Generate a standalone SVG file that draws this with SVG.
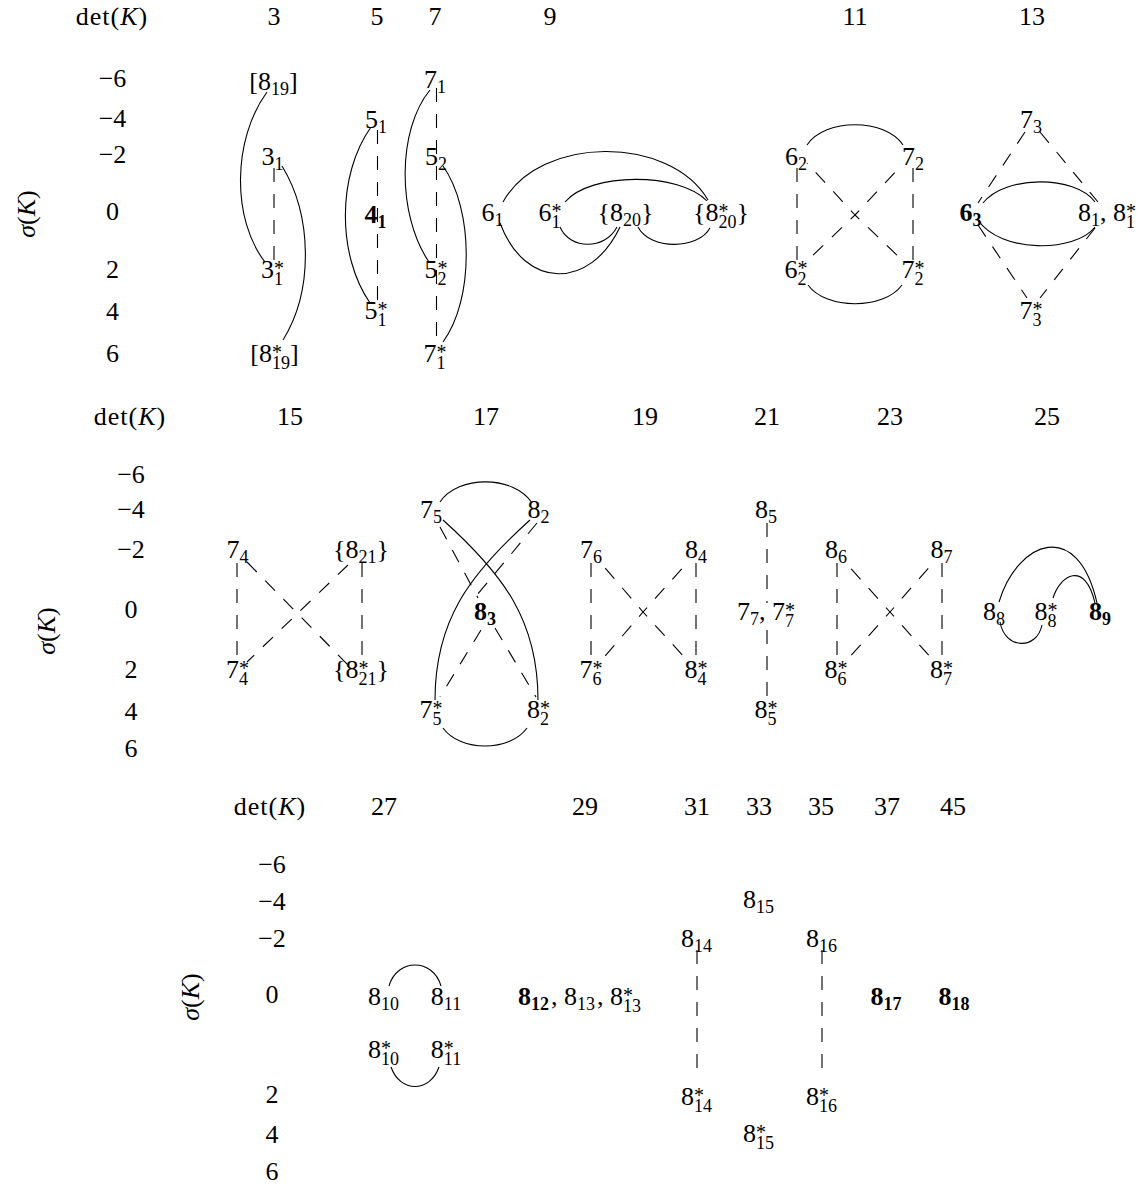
<svg xmlns="http://www.w3.org/2000/svg" width="1142" height="1186" viewBox="0 0 1142 1186">
<style>
.t{font-family:"Liberation Serif","Times New Roman",serif;font-size:26px;fill:#000}
.m{text-anchor:middle}
.s{font-size:18px}
.a{font-size:20px}
.b{font-weight:bold}
.i{font-style:italic}
.e{fill:none;stroke:#000;stroke-width:1.1}
.d{stroke-dasharray:14 12}
.x{stroke-dasharray:14 12;stroke-dashoffset:8}
</style>
<rect width="1142" height="1186" fill="#fff"/>
<g id="axes">
  <g id="axis-row1">
    <text class="t m" x="112" y="25" letter-spacing="1">det(<tspan class="i">K</tspan>)</text>
    <text class="t m" transform="translate(35,214) rotate(-90)"><tspan class="i">σ</tspan>(<tspan class="i">K</tspan>)</text>
    <text class="t m" x="112.5" y="87">−6</text>
    <text class="t m" x="112.5" y="127">−4</text>
    <text class="t m" x="112.5" y="163">−2</text>
    <text class="t m" x="112.5" y="220">0</text>
    <text class="t m" x="112.5" y="278">2</text>
    <text class="t m" x="112.5" y="320">4</text>
    <text class="t m" x="112.5" y="362">6</text>
    <text class="t m" x="274" y="25">3</text>
    <text class="t m" x="377" y="25">5</text>
    <text class="t m" x="435" y="25">7</text>
    <text class="t m" x="550" y="25">9</text>
    <text class="t m" x="855" y="25">11</text>
    <text class="t m" x="1032" y="25">13</text>
  </g>
  <g id="axis-row2">
    <text class="t m" x="130" y="425" letter-spacing="1">det(<tspan class="i">K</tspan>)</text>
    <text class="t m" transform="translate(55,631) rotate(-90)"><tspan class="i">σ</tspan>(<tspan class="i">K</tspan>)</text>
    <text class="t m" x="131" y="483">−6</text>
    <text class="t m" x="131" y="518">−4</text>
    <text class="t m" x="131" y="558">−2</text>
    <text class="t m" x="131" y="618">0</text>
    <text class="t m" x="131" y="678">2</text>
    <text class="t m" x="131" y="720">4</text>
    <text class="t m" x="131" y="757">6</text>
    <text class="t m" x="290" y="425">15</text>
    <text class="t m" x="486" y="425">17</text>
    <text class="t m" x="645" y="425">19</text>
    <text class="t m" x="767" y="425">21</text>
    <text class="t m" x="890" y="425">23</text>
    <text class="t m" x="1047" y="425">25</text>
  </g>
  <g id="axis-row3">
    <text class="t m" x="270" y="815" letter-spacing="1">det(<tspan class="i">K</tspan>)</text>
    <text class="t m" transform="translate(199,997) rotate(-90)"><tspan class="i">σ</tspan>(<tspan class="i">K</tspan>)</text>
    <text class="t m" x="272" y="873">−6</text>
    <text class="t m" x="272" y="910">−4</text>
    <text class="t m" x="272" y="947">−2</text>
    <text class="t m" x="272" y="1003">0</text>
    <text class="t m" x="272" y="1103">2</text>
    <text class="t m" x="272" y="1143">4</text>
    <text class="t m" x="272" y="1180">6</text>
    <text class="t m" x="384" y="815">27</text>
    <text class="t m" x="585" y="815">29</text>
    <text class="t m" x="697" y="815">31</text>
    <text class="t m" x="759" y="815">33</text>
    <text class="t m" x="821" y="815">35</text>
    <text class="t m" x="887" y="815">37</text>
    <text class="t m" x="953" y="815">45</text>
  </g>
</g>
<g id="connectors">
  <path class="e" d="M267,92 C232,140 232,220 265,262"/>
  <path class="e d" d="M274,168 L274,262"/>
  <path class="e" d="M282,166 C312,215 314,290 283,340"/>
  <path class="e d" d="M377.5,130 L377.5,300"/>
  <path class="e" d="M371,127 C337,175 337,255 370,303"/>
  <path class="e d" d="M436.5,88 L436.5,343"/>
  <path class="e" d="M430,90 C397,130 397,215 429,262"/>
  <path class="e" d="M443,166 C474,210 474,300 443,342"/>
  <path class="e" d="M503,202 C540,135 670,135 708,200"/>
  <path class="e" d="M565,202 C590,172 680,172 707,201"/>
  <path class="e" d="M560,227 C570,250 605,250 617,227"/>
  <path class="e" d="M638,227 C650,250 698,250 710,228"/>
  <path class="e" d="M500,223 C525,290 590,290 620,227"/>
  <path class="e" d="M807,145 C825,118 885,118 903,145"/>
  <path class="e" d="M808,285 C826,310 884,310 902,285"/>
  <path class="e d" d="M797,168 L797,260"/>
  <path class="e d" d="M913,168 L913,260"/>
  <path class="e x" d="M855,215 L807,163"/>
  <path class="e x" d="M855,215 L902,260"/>
  <path class="e x" d="M855,215 L902,165"/>
  <path class="e x" d="M855,215 L808,260"/>
  <path class="e d" d="M1025,132 L978,203"/>
  <path class="e d" d="M1040,132 L1098,202"/>
  <path class="e d" d="M978,225 L1027,298"/>
  <path class="e d" d="M1095,228 L1040,298"/>
  <path class="e" d="M983,203 C1005,175 1075,175 1095,202"/>
  <path class="e" d="M978,220 C1000,253 1075,253 1095,227"/>
  <path class="e d" d="M237,563 L237,657"/>
  <path class="e d" d="M362,563 L362,657"/>
  <path class="e d" d="M247,562 L348,665"/>
  <path class="e d" d="M348,565 L247,662"/>
  <path class="e" d="M440,502 C458,475 514,475 532,503"/>
  <path class="e" d="M443,728 C460,752 510,752 527,728"/>
  <path class="e" d="M443,520 C503,574 538,620 538,700"/>
  <path class="e" d="M530,520 C470,574 435,620 435,700"/>
  <path class="e d" d="M440,527 L478,598"/>
  <path class="e d" d="M495,628 L536,697"/>
  <path class="e d" d="M537,523 L477,595"/>
  <path class="e d" d="M481,630 L440,697"/>
  <path class="e d" d="M591,563 L591,658"/>
  <path class="e d" d="M696,563 L696,658"/>
  <path class="e x" d="M643,612 L600,562"/>
  <path class="e x" d="M643,612 L687,660"/>
  <path class="e x" d="M643,612 L687,563"/>
  <path class="e x" d="M643,612 L600,662"/>
  <path class="e d" d="M767,523 L767,603"/>
  <path class="e d" d="M767,630 L767,700"/>
  <path class="e d" d="M837,563 L837,658"/>
  <path class="e d" d="M942,563 L942,658"/>
  <path class="e x" d="M890,612 L845,562"/>
  <path class="e x" d="M890,612 L933,660"/>
  <path class="e x" d="M890,612 L933,563"/>
  <path class="e x" d="M890,612 L847,660"/>
  <path class="e" d="M999,602 C1018,540 1078,518 1097,603"/>
  <path class="e" d="M1053,598 C1060,575 1085,560 1095,603"/>
  <path class="e" d="M1000,622 C1005,650 1037,650 1042,625"/>
  <path class="e" d="M389,986 C397,958 433,958 441,986"/>
  <path class="e" d="M391,1067 C400,1093 430,1093 439,1067"/>
  <path class="e d" d="M697,950 L697,1080"/>
  <path class="e d" d="M822,950 L822,1080"/>
</g>
<g id="nodes">
  <g id="n8_19"><text class="t m" x="273.5" y="90">[8<tspan class="s" dy="5">19</tspan><tspan dy="-5">]</tspan></text></g>
  <g id="n8_19s"><text class="t m" x="274.5" y="362">[8<tspan class="a" dy="-3">*</tspan><tspan class="s" dx="-10" dy="10">19</tspan><tspan dy="-7">]</tspan></text></g>
  <g id="n3_1"><text class="t m" x="272.5" y="165">3<tspan class="s" dy="5">1</tspan></text></g>
  <g id="n3_1s"><text class="t m" x="272.5" y="278">3<tspan class="a" dy="-3">*</tspan><tspan class="s" dx="-10" dy="10">1</tspan></text></g>
  <g id="n5_1"><text class="t m" x="376" y="128">5<tspan class="s" dy="5">1</tspan></text></g>
  <g id="n4_1"><text class="t m b" x="375.5" y="223">4<tspan class="s" dy="5">1</tspan></text></g>
  <g id="n5_1s"><text class="t m" x="376" y="319">5<tspan class="a" dy="-3">*</tspan><tspan class="s" dx="-10" dy="10">1</tspan></text></g>
  <g id="n7_1"><text class="t m" x="435" y="88">7<tspan class="s" dy="5">1</tspan></text></g>
  <g id="n5_2"><text class="t m" x="436" y="165">5<tspan class="s" dy="5">2</tspan></text></g>
  <g id="n5_2s"><text class="t m" x="436" y="278">5<tspan class="a" dy="-3">*</tspan><tspan class="s" dx="-10" dy="10">2</tspan></text></g>
  <g id="n7_1s"><text class="t m" x="435" y="362">7<tspan class="a" dy="-3">*</tspan><tspan class="s" dx="-10" dy="10">1</tspan></text></g>
  <g id="n6_1"><text class="t m" x="492.5" y="221">6<tspan class="s" dy="5">1</tspan></text></g>
  <g id="n6_1s"><text class="t m" x="550" y="221">6<tspan class="a" dy="-3">*</tspan><tspan class="s" dx="-10" dy="10">1</tspan></text></g>
  <g id="n8_20"><text class="t m" x="625.5" y="221">{8<tspan class="s" dy="5">20</tspan><tspan dy="-5">}</tspan></text></g>
  <g id="n8_20s"><text class="t m" x="721" y="221">{8<tspan class="a" dy="-3">*</tspan><tspan class="s" dx="-10" dy="10">20</tspan><tspan dy="-7">}</tspan></text></g>
  <g id="n6_2"><text class="t m" x="796" y="165">6<tspan class="s" dy="5">2</tspan></text></g>
  <g id="n7_2"><text class="t m" x="913" y="165">7<tspan class="s" dy="5">2</tspan></text></g>
  <g id="n6_2s"><text class="t m" x="796" y="278">6<tspan class="a" dy="-3">*</tspan><tspan class="s" dx="-10" dy="10">2</tspan></text></g>
  <g id="n7_2s"><text class="t m" x="913" y="278">7<tspan class="a" dy="-3">*</tspan><tspan class="s" dx="-10" dy="10">2</tspan></text></g>
  <g id="n7_3"><text class="t m" x="1031" y="128">7<tspan class="s" dy="5">3</tspan></text></g>
  <g id="n6_3"><text class="t m b" x="970.5" y="221">6<tspan class="s" dy="5">3</tspan></text></g>
  <g id="n8_1"><text class="t" x="1078" y="221">8<tspan class="s" dy="5">1</tspan><tspan dy="-5">, 8</tspan><tspan class="a" dy="-3">*</tspan><tspan class="s" dx="-10" dy="10">1</tspan></text></g>
  <g id="n7_3s"><text class="t m" x="1031" y="319">7<tspan class="a" dy="-3">*</tspan><tspan class="s" dx="-10" dy="10">3</tspan></text></g>

  <g id="n7_4"><text class="t m" x="237.5" y="558">7<tspan class="s" dy="5">4</tspan></text></g>
  <g id="n8_21"><text class="t m" x="361" y="558">{8<tspan class="s" dy="5">21</tspan><tspan dy="-5">}</tspan></text></g>
  <g id="n7_4s"><text class="t m" x="237.5" y="678">7<tspan class="a" dy="-3">*</tspan><tspan class="s" dx="-10" dy="10">4</tspan></text></g>
  <g id="n8_21s"><text class="t m" x="361" y="678">{8<tspan class="a" dy="-3">*</tspan><tspan class="s" dx="-10" dy="10">21</tspan><tspan dy="-7">}</tspan></text></g>
  <g id="n7_5"><text class="t m" x="431" y="518">7<tspan class="s" dy="5">5</tspan></text></g>
  <g id="n8_2"><text class="t m" x="538.5" y="518">8<tspan class="s" dy="5">2</tspan></text></g>
  <g id="n8_3"><text class="t m b" x="485" y="620">8<tspan class="s" dy="5">3</tspan></text></g>
  <g id="n7_5s"><text class="t m" x="431" y="718">7<tspan class="a" dy="-3">*</tspan><tspan class="s" dx="-10" dy="10">5</tspan></text></g>
  <g id="n8_2s"><text class="t m" x="538.5" y="718">8<tspan class="a" dy="-3">*</tspan><tspan class="s" dx="-10" dy="10">2</tspan></text></g>
  <g id="n7_6"><text class="t m" x="591" y="558">7<tspan class="s" dy="5">6</tspan></text></g>
  <g id="n8_4"><text class="t m" x="696" y="558">8<tspan class="s" dy="5">4</tspan></text></g>
  <g id="n7_6s"><text class="t m" x="591" y="678">7<tspan class="a" dy="-3">*</tspan><tspan class="s" dx="-10" dy="10">6</tspan></text></g>
  <g id="n8_4s"><text class="t m" x="696" y="678">8<tspan class="a" dy="-3">*</tspan><tspan class="s" dx="-10" dy="10">4</tspan></text></g>
  <g id="n8_5"><text class="t m" x="766" y="518">8<tspan class="s" dy="5">5</tspan></text></g>
  <g id="n7_7"><text class="t m" x="766" y="620">7<tspan class="s" dy="5">7</tspan><tspan dy="-5">, 7</tspan><tspan class="a" dy="-3">*</tspan><tspan class="s" dx="-10" dy="10">7</tspan></text></g>
  <g id="n8_5s"><text class="t m" x="766" y="718">8<tspan class="a" dy="-3">*</tspan><tspan class="s" dx="-10" dy="10">5</tspan></text></g>
  <g id="n8_6"><text class="t m" x="836" y="558">8<tspan class="s" dy="5">6</tspan></text></g>
  <g id="n8_7"><text class="t m" x="941.5" y="558">8<tspan class="s" dy="5">7</tspan></text></g>
  <g id="n8_6s"><text class="t m" x="836" y="678">8<tspan class="a" dy="-3">*</tspan><tspan class="s" dx="-10" dy="10">6</tspan></text></g>
  <g id="n8_7s"><text class="t m" x="941.5" y="678">8<tspan class="a" dy="-3">*</tspan><tspan class="s" dx="-10" dy="10">7</tspan></text></g>
  <g id="n8_8"><text class="t m" x="994" y="620">8<tspan class="s" dy="5">8</tspan></text></g>
  <g id="n8_8s"><text class="t m" x="1046" y="620">8<tspan class="a" dy="-3">*</tspan><tspan class="s" dx="-10" dy="10">8</tspan></text></g>
  <g id="n8_9"><text class="t m b" x="1100" y="620">8<tspan class="s" dy="5">9</tspan></text></g>

  <g id="n8_10"><text class="t m" x="383.5" y="1005">8<tspan class="s" dy="5">10</tspan></text></g>
  <g id="n8_11"><text class="t m" x="446" y="1005">8<tspan class="s" dy="5">11</tspan></text></g>
  <g id="n8_10s"><text class="t m" x="383.5" y="1058">8<tspan class="a" dy="-3">*</tspan><tspan class="s" dx="-10" dy="10">10</tspan></text></g>
  <g id="n8_11s"><text class="t m" x="446" y="1058">8<tspan class="a" dy="-3">*</tspan><tspan class="s" dx="-10" dy="10">11</tspan></text></g>
  <g id="n8_12"><text class="t" x="518" y="1005"><tspan class="b">8</tspan><tspan class="s b" dy="5">12</tspan><tspan dy="-5" dx="2">, 8</tspan><tspan class="s" dy="5">13</tspan><tspan dy="-5" dx="2">, 8</tspan><tspan class="a" dy="-3">*</tspan><tspan class="s" dx="-10" dy="10">13</tspan></text></g>
  <g id="n8_14"><text class="t m" x="696.5" y="947">8<tspan class="s" dy="5">14</tspan></text></g>
  <g id="n8_14s"><text class="t m" x="696.5" y="1105">8<tspan class="a" dy="-3">*</tspan><tspan class="s" dx="-10" dy="10">14</tspan></text></g>
  <g id="n8_15"><text class="t m" x="758.5" y="908">8<tspan class="s" dy="5">15</tspan></text></g>
  <g id="n8_15s"><text class="t m" x="758.5" y="1142">8<tspan class="a" dy="-3">*</tspan><tspan class="s" dx="-10" dy="10">15</tspan></text></g>
  <g id="n8_16"><text class="t m" x="821.5" y="947">8<tspan class="s" dy="5">16</tspan></text></g>
  <g id="n8_16s"><text class="t m" x="821.5" y="1105">8<tspan class="a" dy="-3">*</tspan><tspan class="s" dx="-10" dy="10">16</tspan></text></g>
  <g id="n8_17"><text class="t m b" x="886" y="1005">8<tspan class="s" dy="5">17</tspan></text></g>
  <g id="n8_18"><text class="t m b" x="954" y="1005">8<tspan class="s" dy="5">18</tspan></text></g>
</g>
</svg>
